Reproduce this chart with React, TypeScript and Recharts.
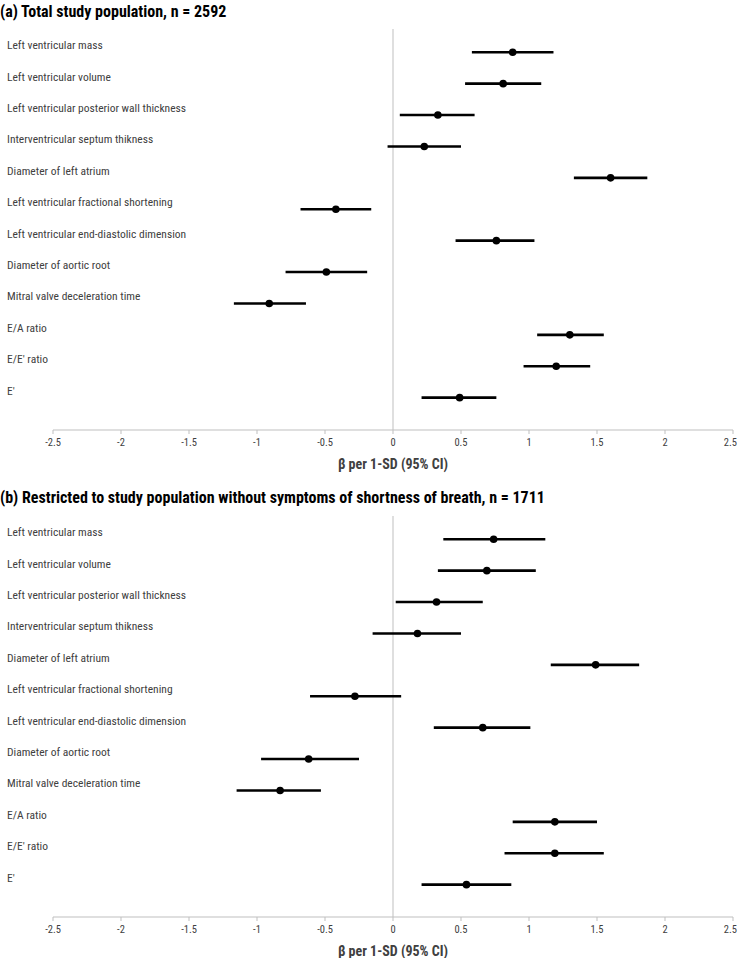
import React from "react"
import { ScatterChart, Scatter, XAxis, YAxis, ErrorBar, ReferenceLine } from "recharts"

const measures = [
  "Left ventricular mass",
  "Left ventricular volume",
  "Left ventricular posterior wall thickness",
  "Interventricular septum thikness",
  "Diameter of left atrium",
  "Left ventricular fractional shortening",
  "Left ventricular end-diastolic dimension",
  "Diameter of aortic root",
  "Mitral valve deceleration time",
  "E/A ratio",
  "E/E' ratio",
  "E'",
]

// (a) total population
const betaA = [0.88, 0.81, 0.33, 0.23, 1.6, -0.42, 0.76, -0.49, -0.91, 1.3, 1.2, 0.49]
const lowA = [0.58, 0.53, 0.05, -0.04, 1.33, -0.68, 0.46, -0.79, -1.17, 1.06, 0.96, 0.21]
const highA = [1.18, 1.09, 0.6, 0.5, 1.87, -0.16, 1.04, -0.19, -0.64, 1.55, 1.45, 0.76]

// (b) without shortness of breath
const betaB = [0.74, 0.69, 0.32, 0.18, 1.49, -0.28, 0.66, -0.62, -0.83, 1.19, 1.19, 0.54]
const lowB = [0.37, 0.33, 0.02, -0.15, 1.16, -0.61, 0.3, -0.97, -1.15, 0.88, 0.82, 0.21]
const highB = [1.12, 1.05, 0.66, 0.5, 1.81, 0.06, 1.01, -0.25, -0.53, 1.5, 1.55, 0.87]

const xTicks = [-2.5, -2, -1.5, -1, -0.5, 0, 0.5, 1, 1.5, 2, 2.5]
const rowTicks = [12, 11, 10, 9, 8, 7, 6, 5, 4, 3, 2, 1]

const narrow = "'Liberation Sans Narrow', 'Arial Narrow', 'Roboto Condensed', Roboto, sans-serif"

const buildRows = (beta: number[], low: number[], high: number[]) =>
  beta.map((b, i) => ({
    x: b,
    y: rowTicks[i],
    err: [b - low[i], high[i] - b],
  }))

const LabelTick = (props: any) => {
  const { y, payload } = props
  return (
    <text x={7} y={y - 7} dy="0.35em" fontSize={11.5} fill="#404040" fontFamily={narrow}>
      {measures[12 - payload.value]}
    </text>
  )
}

// keep the last label inside the page edge
const XTick = (props: any) => {
  const { x, y, payload } = props
  const last = payload.value === 2.5
  return (
    <text
      x={last ? x + 4 : x}
      y={y}
      dy="0.71em"
      textAnchor={last ? "end" : "middle"}
      fontSize={10.5}
      fill="#404040"
      fontFamily={narrow}
    >
      {payload.value}
    </text>
  )
}

const Forest = ({ beta, low, high }: { beta: number[]; low: number[]; high: number[] }) => {
  const rows = buildRows(beta, low, high)
  return (
    <ScatterChart width={738} height={472} margin={{ top: 29, right: 5, bottom: 2, left: 0 }}>
      <XAxis
        type="number"
        dataKey="x"
        domain={[-2.5, 2.5]}
        ticks={xTicks}
        interval={0}
        height={40}
        stroke="#bfbfbf"
        tickSize={4}
        tickMargin={5}
        tick={<XTick />}
      />
      <YAxis
        type="number"
        dataKey="y"
        domain={[-0.03, 12.74]}
        ticks={rowTicks}
        interval={0}
        width={53}
        axisLine={false}
        tickLine={false}
        tick={<LabelTick />}
      />
      <ReferenceLine x={0} stroke="#bfbfbf" strokeWidth={1} />
      <Scatter
        data={rows}
        isAnimationActive={false}
        shape={(p: any) => <circle cx={p.cx} cy={p.cy} r={3.8} fill="#000" />}
      >
        <ErrorBar dataKey="err" direction="x" width={0} stroke="#000" strokeWidth={2.6} />
      </Scatter>
    </ScatterChart>
  )
}

const titleStyle: React.CSSProperties = {
  position: "absolute",
  left: 0,
  fontFamily: narrow,
  fontWeight: "bold",
  fontSize: 16,
  color: "#000",
  whiteSpace: "nowrap",
  lineHeight: "18px",
}

const axisTitleStyle: React.CSSProperties = {
  position: "absolute",
  left: 293,
  width: 200,
  textAlign: "center",
  fontFamily: narrow,
  fontWeight: "bold",
  fontSize: 14,
  color: "#404040",
  lineHeight: "16px",
}

export default function App() {
  return (
    <div style={{ position: "absolute", left: 0, top: 0, width: 738, height: 958, background: "#fff" }}>
      <div style={{ ...titleStyle, top: 3 }}>(a) Total study population, n = 2592</div>
      <div style={{ position: "absolute", left: 0, top: 0 }}>
        <Forest beta={betaA} low={lowA} high={highA} />
      </div>
      <div style={{ ...axisTitleStyle, top: 456 }}>β per 1-SD (95% CI)</div>

      <div style={{ ...titleStyle, top: 489 }}>
        (b) Restricted to study population without symptoms of shortness of breath, n = 1711
      </div>
      <div style={{ position: "absolute", left: 0, top: 487 }}>
        <Forest beta={betaB} low={lowB} high={highB} />
      </div>
      <div style={{ ...axisTitleStyle, top: 943 }}>β per 1-SD (95% CI)</div>
    </div>
  )
}
